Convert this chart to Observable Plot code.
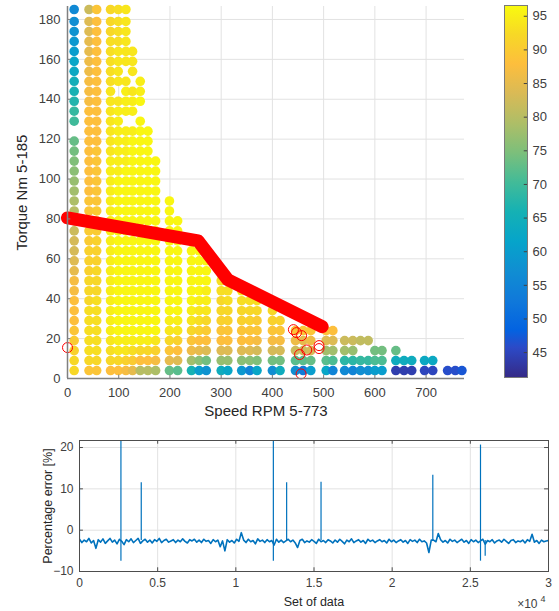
<!DOCTYPE html>
<html>
<head>
<meta charset="utf-8">
<script src="https://cdn.jsdelivr.net/npm/d3@7"></script>
<script src="https://cdn.jsdelivr.net/npm/@observablehq/plot@0.6"></script>
<style>
  html, body { margin: 0; padding: 0; background: #fff; }
  #fig { position: relative; width: 559px; height: 611px; overflow: hidden;
         font-family: "Liberation Sans", Arial, Helvetica, sans-serif; }
  #fig > div { position: absolute; }
</style>
</head>
<body>
<div id="fig">
  <div id="map" style="left:0;top:0;width:480px;height:425px"></div>
  <div id="bar" style="left:490px;top:0;width:69px;height:390px"></div>
  <div id="err" style="left:0;top:430px;width:559px;height:181px"></div>
</div>
<script>
// ---- efficiency map: torque rows and speed columns of the measured grid ----
const torqueRows = [4, 9, 14, 19, 24, 29, 34, 39, 44, 49, 54, 59, 64, 69, 74, 79, 84, 89, 94, 99,
  104, 109, 114, 119, 124, 129, 134, 139, 144, 149, 154, 159, 164, 169, 174, 179, 185];

const speedCols = [13, 42, 57, 84, 99, 114, 127, 142, 157, 172, 199, 215, 242, 257, 271, 300, 313,
  340, 356, 370, 400, 415, 445, 460, 475, 505, 518, 541, 557, 572, 587, 600, 614, 641, 657, 672,
  697, 713, 742, 757, 770];

// efficiency [%] per column, lowest torque row first; null = no measurement
const effByCol = [
  [92,92,91,90,89,88,88,88,87,87,85,84,83,83,82,81,80,79,78,77,76,75,74,73,null,70,69,67,66,65,63,62,60,59,58,57,56],
  [89,92,93,93,93,93,93,92,92,92,91,91,91,90,90,89,89,89,88,88,88,88,88,88,88,88,88,87,87,87,86,86,85,85,84,84,82],
  [89,92,93,93,93,93,93,93,92,92,92,91,91,91,90,90,90,89,89,89,89,89,89,88,88,88,88,88,88,88,88,88,88,88,88,88,89],
  [88,92,93,94,95,95,95,95,95,95,95,95,95,95,95,95,95,95,95,95,95,95,94,94,94,94,94,94,94,93,93,93,93,93,92,92,92],
  [88,92,94,95,96,96,96,96,96,96,96,96,96,96,96,96,96,96,96,96,95,95,95,95,95,95,95,94,null,94,94,94,94,93,93,93,93],
  [87,91,94,95,96,96,96,96,96,96,96,96,96,96,96,96,96,96,96,96,96,95,95,95,95,null,95,95,95,94,null,94,94,94,94,94,94],
  [85,90,93,95,96,96,96,96,96,96,96,96,96,96,96,96,96,96,96,96,96,96,96,96,95,null,95,95,94,null,94,94,94],
  [80,88,92,95,96,96,96,96,96,96,96,96,96,96,96,96,96,96,96,96,96,96,96,96,96,96,null,96,95,95],
  [80,88,92,95,96,96,96,96,96,96,96,96,96,96,96,96,96,96,96,96,96,96,96,96,96],
  [79,87,91,94,96,96,96,96,96,96,96,96,96,96,96,96,96,96,96,96,96,96],
  [73,85,89,92,94,95,96,96,96,96,96,96,96,96,96,96,96,96],
  [72,84,88,91,94,95,96,96,96,96,96,96,96,96,96,96],
  [66,78,86,89,92,94,95,96,96,96,96,96,96,96],
  [60,76,85,88,91,93,94,95,96,96,96,96,96],
  [58,74,84,88,90,92,94,95,95,96,96,96],
  [64,77,84,88,89,91,92,92,93,93],
  [62,77,84,88,89,91,92,93,93,94],
  [59,76,84,88,89,91,92,93,94],
  [55,76,84,88,89,91,92,93],
  [62,75,83,87,89,90,92,93],
  [57,74,83,87,89,91,92],
  [64,74,83,87,89,91],
  [57,72,82,86,89],
  [53,72,82,85,89],
  [60,73,83,86,89],
  [62,72,78,84,88],
  [55,71,78,84,88],
  [56,68,78,82],
  [55,68,77,82],
  [57,69,null,81],
  [57,69,null,81],
  [60,71,74],
  [60,71,74],
  [44,64,73],
  [44,64],
  [44,64],
  [45,63],
  [45,63],
  [46],
  [46],
  [47]
];

// maximum-torque envelope (red band) and flagged operating points (red rings)
const limitSpeed = [0, 255, 313, 497];
const limitTorque = [80.5, 69, 49.5, 26];
const flagSpeed = [0, 441, 447, 457, 467, 453, 491, 491, 456];
const flagTorque = [15.5, 24.5, 23, 21.5, 14.3, 12, 16.5, 15, 2.3];

const mapXTicks = [0, 100, 200, 300, 400, 500, 600, 700];
const mapYTicks = [0, 20, 40, 60, 80, 100, 120, 140, 160, 180];
const barTicks = [45, 50, 55, 60, 65, 70, 75, 80, 85, 90, 95];

// ---- percentage error over the data set ----
const errStep = 150; // one sample shown every 150 data sets
const errValues = [
  -2.2,-3.0,-2.4,-2.8,-2.0,-3.1,-2.5,-4.4,-2.3,-2.9,
  -2.1,-3.2,-2.6,-2.0,-2.9,-2.4,-3.3,-2.2,-2.7,-3.5,
  -2.3,-2.8,-2.1,-3.0,-2.5,-2.0,-3.2,-2.6,-2.2,-2.9,
  -2.4,-3.1,-2.3,-2.7,-2.0,-3.0,-2.5,-2.2,-2.9,-2.6,
  -2.3,-3.0,-2.4,-2.8,-2.1,-2.7,-3.1,-2.3,-2.6,-2.2,
  -2.9,-2.4,-3.0,-2.2,-2.7,-2.5,-3.2,-2.3,-2.8,-2.4,
  -4.0,-2.6,-5.0,-2.3,-2.9,-2.5,-3.1,-2.2,-2.7,-0.6,
  -2.4,-3.0,-2.2,-2.8,-2.5,-3.3,-2.1,-2.7,-2.4,-3.0,
  -2.3,-2.8,-2.5,-3.6,-2.2,-2.9,-2.4,-3.0,-2.6,-2.2,
  -2.8,-2.4,-3.1,-4.2,-2.5,-2.2,-3.0,-2.6,-2.9,-2.3,
  -2.7,-3.2,-2.2,-2.8,-2.5,-3.0,-2.3,-2.6,-3.1,-2.4,
  -2.9,-2.2,-2.7,-3.3,-2.4,-2.8,-2.1,-3.0,-2.6,-2.3,
  -2.9,-2.5,-3.2,-2.2,-2.7,-2.4,-3.0,-2.6,-2.3,-2.8,
  -2.5,-3.1,-2.2,-2.8,-2.4,-3.0,-2.6,-2.3,-2.9,-2.5,
  -3.2,-2.3,-2.7,-2.4,-3.0,-2.2,-2.8,-2.6,-3.1,-5.4,
  -2.4,-2.4,-2.8,-0.8,-2.3,-2.9,-2.5,-3.1,-2.2,-2.7,
  -2.4,-3.0,-2.6,-2.2,-2.9,-2.5,-3.2,-2.3,-2.8,-2.4,
  -3.0,-2.6,-2.2,-3.4,-2.5,-2.8,-2.3,-3.1,-2.6,-2.4,
  -2.9,-2.2,-2.7,-3.2,-2.5,-2.3,-3.0,-2.6,-2.8,-2.4,
  -3.1,-2.3,-2.7,-1.0,-2.9,-2.5,-3.2,-2.4,-2.8,-2.6,
  -2.5
];
// isolated spikes: position, lowest and highest value reached
const spikeAt = [0, 2650, 3950, 12400, 13250, 15450, 22600, 25650, 25950];
const spikeLow = [-2.5, -7.5, -2.5, -7.5, -2.5, -2.5, -2.5, -7.5, -6.3];
const spikeHigh = [11.5, 25, 11.5, 25, 11.5, 11.6, 13.3, 20.6, -2.5];

const errXTicks = [0, 5000, 10000, 15000, 20000, 25000, 30000];
const errXLabels = ["0", "0.5", "1", "1.5", "2", "2.5", "3"];
const errYTicks = [-10, 0, 10, 20];

// ---- parula colour map ----
const parulaPos = [0, 5, 8, 13, 18, 23, 28, 33, 38, 43, 48, 53, 58, 63];
const parulaHex = ["#352a87", "#2c4ac7", "#0363e1", "#1079da", "#108ed2", "#06a4ca", "#15b1b4",
  "#42bb98", "#7cbf7b", "#aebe67", "#d9ba56", "#fdbe3d", "#f7d826", "#f9fb0e"];
const parula = d3.scaleLinear().domain(parulaPos.map(i => i / 63)).range(parulaHex)
  .interpolate(d3.interpolateRgb).clamp(true);
const effDomain = [41.3, 96.6];

const font = '"Liberation Sans", Arial, Helvetica, sans-serif';
const gridColor = "#e2e2e2";
const tickColor = "#404040";

// build the point table
const points = [];
speedCols.forEach((s, c) => effByCol[c].forEach((e, r) => {
  if (e != null) points.push({speed: s, torque: torqueRows[r], eff: e});
}));
const limit = limitSpeed.map((s, i) => ({speed: s, torque: limitTorque[i]}));
const flags = flagSpeed.map((s, i) => ({speed: s, torque: flagTorque[i]}));

// ---- efficiency map ----
const map = Plot.plot({
  width: 480, height: 425,
  marginLeft: 67, marginRight: 16, marginTop: 6, marginBottom: 47,
  style: {background: "transparent", overflow: "visible", fontFamily: font},
  x: {domain: [0, 775]},
  y: {domain: [0, 186.5]},
  color: {type: "linear", domain: effDomain, interpolate: t => parula(t)},
  marks: [
    Plot.gridX(mapXTicks.slice(1), {stroke: gridColor, strokeOpacity: 1}),
    Plot.gridY(mapYTicks.slice(1), {stroke: gridColor, strokeOpacity: 1}),
    Plot.dot(points, {x: "speed", y: "torque", fill: "eff", r: 4.8}),
    Plot.line(limit, {x: "speed", y: "torque", stroke: "#ff0000", strokeWidth: 13,
      strokeLinecap: "round", strokeLinejoin: "round"}),
    Plot.dot(flags, {x: "speed", y: "torque", stroke: "#ff0000", fill: "none", r: 5, strokeWidth: 1}),
    Plot.ruleX([0], {stroke: "#808080", strokeWidth: 1.5}),
    Plot.ruleY([0], {stroke: "#808080", strokeWidth: 1.5}),
    Plot.ruleX(mapXTicks.slice(1), {y1: 0, y2: 1.7, stroke: "#808080"}),
    Plot.ruleY(mapYTicks.slice(1), {x1: 0, x2: 6.5, stroke: "#808080"}),
    Plot.axisX(mapXTicks, {tickSize: 0, tickPadding: 9, fontSize: 13, fill: tickColor, label: null}),
    Plot.axisY(mapYTicks, {tickSize: 0, tickPadding: 7, fontSize: 13, fill: tickColor, label: null}),
    Plot.text(["Speed RPM 5-773"], {text: d => d, frameAnchor: "bottom", dy: 33,
      lineAnchor: "middle", textAnchor: "middle", fontSize: 15, fill: "#262626"}),
    Plot.text(["Torque Nm 5-185"], {text: d => d, frameAnchor: "left", dx: -45.5, rotate: -90,
      lineAnchor: "middle", textAnchor: "middle", fontSize: 15, fill: "#262626"})
  ]
});
document.getElementById("map").append(map);

// ---- colour bar: one rectangle filled with a vertical parula gradient ----
const bar = Plot.plot({
  width: 69, height: 390,
  marginLeft: 14, marginRight: 32, marginTop: 5, marginBottom: 13,
  style: {background: "transparent", overflow: "visible", fontFamily: font},
  x: {domain: [0, 1], axis: null},
  y: {domain: effDomain},
  marks: [
    Plot.rect([effDomain], {x1: 0, x2: 1, y1: d => d[0], y2: d => d[1], fill: "url(#parula-bar)"}),
    Plot.frame({stroke: "#7a7a7a"}),
    Plot.ruleY(barTicks, {x1: 0.86, x2: 1, stroke: "#404040"}),
    Plot.axisY(barTicks, {anchor: "right", tickSize: 0, tickPadding: 5, fontSize: 13, fill: tickColor, label: null})
  ]
});
const grad = d3.select(bar).insert("defs", ":first-child")
  .append("linearGradient").attr("id", "parula-bar")
  .attr("x1", 0).attr("y1", 1).attr("x2", 0).attr("y2", 0);
parulaPos.forEach((p, i) => grad.append("stop")
  .attr("offset", p / 63).attr("stop-color", parulaHex[i]));
document.getElementById("bar").append(bar);

// ---- percentage error ----
const errSeries = errValues.map((v, i) => ({set: i * errStep, err: v}));
const spikes = spikeAt.map((s, i) => ({set: s, low: spikeLow[i], high: spikeHigh[i]}));
const blue = "#0072bd";
const err = Plot.plot({
  width: 559, height: 181,
  marginLeft: 79, marginRight: 11, marginTop: 10, marginBottom: 40,
  style: {background: "transparent", overflow: "visible", fontFamily: font},
  x: {domain: [0, 30000]},
  y: {domain: [-10, 21.7]},
  marks: [
    Plot.gridX(errXTicks.slice(1, -1), {stroke: gridColor, strokeOpacity: 1}),
    Plot.gridY([0, 10, 20], {stroke: gridColor, strokeOpacity: 1}),
    Plot.line(errSeries, {x: "set", y: "err", stroke: blue, strokeWidth: 1.6, clip: true}),
    Plot.ruleX(spikes, {x: "set", y1: "low", y2: "high", stroke: blue, strokeWidth: 1.2, clip: true}),
    Plot.frame({stroke: "#4d4d4d"}),
    Plot.ruleX(errXTicks, {y1: -10, y2: -9.1, stroke: "#4d4d4d"}),
    Plot.ruleX(errXTicks, {y1: 20.8, y2: 21.7, stroke: "#4d4d4d"}),
    Plot.ruleY(errYTicks, {x1: 0, x2: 250, stroke: "#4d4d4d"}),
    Plot.ruleY(errYTicks, {x1: 29750, x2: 30000, stroke: "#4d4d4d"}),
    Plot.axisX(errXTicks, {tickSize: 0, tickPadding: 7, fontSize: 12, fill: tickColor, label: null,
      tickFormat: (d, i) => errXLabels[i]}),
    Plot.axisY(errYTicks, {tickSize: 0, tickPadding: 6, fontSize: 12, fill: tickColor, label: null}),
    Plot.text(["Set of data"], {text: d => d, frameAnchor: "bottom", dy: 30,
      lineAnchor: "middle", textAnchor: "middle", fontSize: 12.5, fill: "#262626"}),
    Plot.text(["Percentage error [%]"], {text: d => d, frameAnchor: "left", dx: -31.5, rotate: -90,
      lineAnchor: "middle", textAnchor: "middle", fontSize: 12.5, fill: "#262626"}),
    Plot.text(["×10"], {text: d => d, frameAnchor: "bottom-right", dx: -11, dy: 36,
      textAnchor: "end", lineAnchor: "bottom", fontSize: 12, fill: tickColor}),
    Plot.text(["4"], {text: d => d, frameAnchor: "bottom-right", dx: -3, dy: 30,
      textAnchor: "end", lineAnchor: "bottom", fontSize: 9, fill: tickColor})
  ]
});
document.getElementById("err").append(err);
</script>
</body>
</html>
